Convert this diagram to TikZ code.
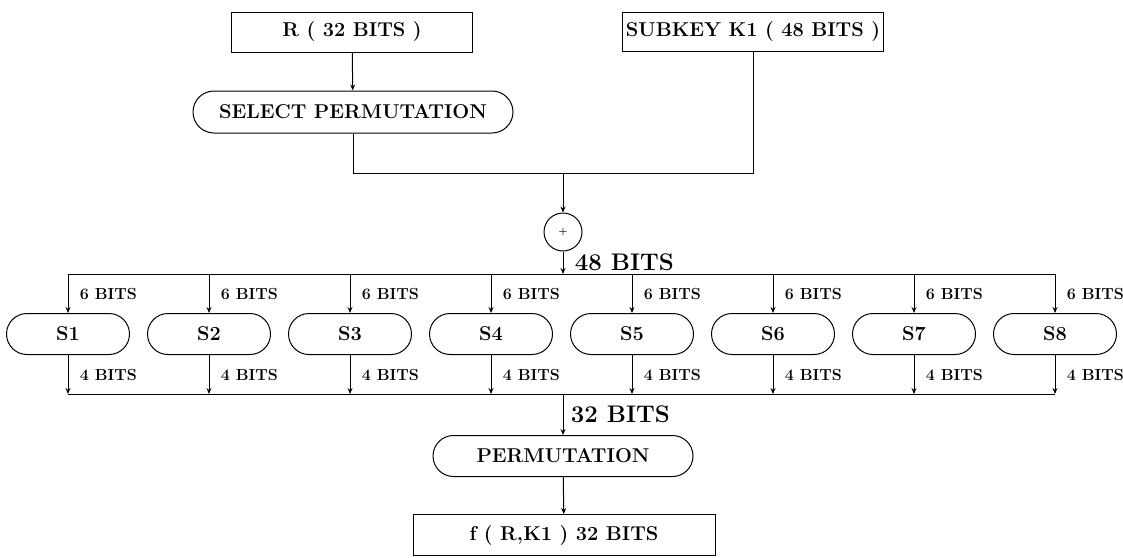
\documentclass[tikz,border=0pt]{standalone}
\usepackage{tikz}
\usetikzlibrary{shapes.misc, positioning, arrows.meta}
\tikzset{
    box/.style = {draw, rectangle, line width=1pt, inner sep=0pt, font=\fontsize{20}{24}\selectfont\bfseries},
    rbox/.style = {box, rounded rectangle},
    wire/.style = {draw, line width=1pt},
    arr/.style = {wire, -{Stealth[length=6pt, width=5pt]}},
    bits/.style = {right, xshift=8pt, yshift=-1pt, font=\fontsize{16}{19}\selectfont\bfseries},
    bigbits/.style = {right, font=\fontsize{24}{28}\selectfont\bfseries},
}

\begin{document}
\begin{tikzpicture}[x=1pt, y=1pt]
    \useasboundingbox (0,0) rectangle (1123,-557);
    \node[box, minimum width=241pt, minimum height=40pt] (r) at (352,-32) {R ( 32 BITS )};
    \node[box, minimum width=261pt, minimum height=39pt] (subkey) at (753,-32) {SUBKEY K1 ( 48 BITS )};
    \node[rbox, minimum width=320pt, minimum height=42pt] (select) at (353,-112) {SELECT PERMUTATION};
    \coordinate (join) at (563,-173);
    \node[draw, circle, line width=1pt, minimum size=38pt, inner sep=0pt, font=\normalsize\bfseries] (xor) at (563,-232) {+};
    \coordinate (top) at (563,-274);
    \node[rbox, minimum width=123pt, minimum height=41pt] (s1) at (68,-334) {S1};
    \node[rbox, minimum width=123pt, minimum height=41pt] (s2) at (209,-334) {S2};
    \node[rbox, minimum width=123pt, minimum height=41pt] (s3) at (350,-334) {S3};
    \node[rbox, minimum width=123pt, minimum height=41pt] (s4) at (491,-334) {S4};
    \node[rbox, minimum width=123pt, minimum height=41pt] (s5) at (632,-334) {S5};
    \node[rbox, minimum width=123pt, minimum height=41pt] (s6) at (773,-334) {S6};
    \node[rbox, minimum width=123pt, minimum height=41pt] (s7) at (914,-334) {S7};
    \node[rbox, minimum width=123pt, minimum height=41pt] (s8) at (1055,-334) {S8};
    \coordinate (bot) at (563,-394);
    \node[rbox, minimum width=260pt, minimum height=41pt] (perm) at (563,-456) {PERMUTATION};
    \node[box, minimum width=302pt, minimum height=41pt] (f) at (564,-535) {f ( R,K1 ) 32 BITS};

    \draw[arr] (r) -- (select);
    \draw[wire] (select) |- (join);
    \draw[wire] (subkey) |- (join);
    \draw[arr] (join) -- (xor);
    \draw[arr] (xor) -- node[bigbits, xshift=8pt] {48 BITS} (top);

    \draw[wire] (s1 |- top) -- (s8 |- top);
    \draw[arr] (s1 |- top) -- node[bits] {6 BITS} (s1);
    \draw[arr] (s2 |- top) -- node[bits] {6 BITS} (s2);
    \draw[arr] (s3 |- top) -- node[bits] {6 BITS} (s3);
    \draw[arr] (s4 |- top) -- node[bits] {6 BITS} (s4);
    \draw[arr] (s5 |- top) -- node[bits] {6 BITS} (s5);
    \draw[arr] (s6 |- top) -- node[bits] {6 BITS} (s6);
    \draw[arr] (s7 |- top) -- node[bits] {6 BITS} (s7);
    \draw[arr] (s8 |- top) -- node[bits] {6 BITS} (s8);

    \draw[arr] (s1) -- node[bits] {4 BITS} (s1 |- bot);
    \draw[arr] (s2) -- node[bits] {4 BITS} (s2 |- bot);
    \draw[arr] (s3) -- node[bits] {4 BITS} (s3 |- bot);
    \draw[arr] (s4) -- node[bits] {4 BITS} (s4 |- bot);
    \draw[arr] (s5) -- node[bits] {4 BITS} (s5 |- bot);
    \draw[arr] (s6) -- node[bits] {4 BITS} (s6 |- bot);
    \draw[arr] (s7) -- node[bits] {4 BITS} (s7 |- bot);
    \draw[arr] (s8) -- node[bits] {4 BITS} (s8 |- bot);
    \draw[wire] (s1 |- bot) -- (s8 |- bot);

    \draw[arr] (bot) -- node[bigbits, xshift=4pt] {32 BITS} (perm);
    \draw[arr] (perm) -- (f);
\end{tikzpicture}
\end{document}
